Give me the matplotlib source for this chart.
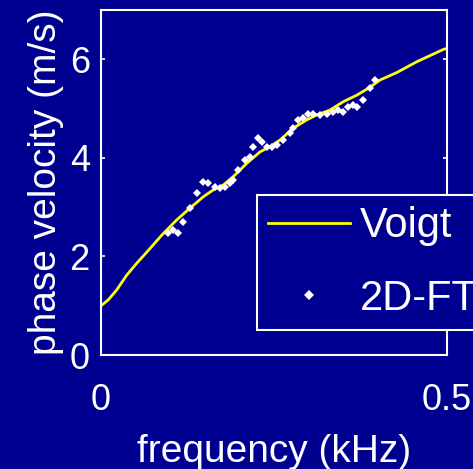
import matplotlib
matplotlib.use("Agg")
import matplotlib.pyplot as plt

# Voigt model curve (frequency in kHz, phase velocity in m/s)
voigt_freq = [0.0, 0.0106, 0.0227, 0.0372, 0.0516, 0.0709, 0.0878, 0.1095,
              0.1288, 0.148, 0.1625, 0.177, 0.1915, 0.211, 0.230, 0.2446,
              0.259, 0.278, 0.2977, 0.312, 0.3314, 0.3507, 0.370, 0.389,
              0.4038, 0.428, 0.457, 0.4954, 0.5]
voigt_vel = [1.0, 1.12, 1.32, 1.62, 1.86, 2.16, 2.43, 2.74,
             2.98, 3.21, 3.35, 3.45, 3.62, 3.89, 4.12, 4.23,
             4.36, 4.60, 4.77, 4.87, 4.97, 5.14, 5.27, 5.43,
             5.58, 5.73, 5.95, 6.20, 6.22]

# 2D-FT measured points
ft_freq = [0.0974, 0.1046, 0.1119, 0.1191, 0.1288, 0.1385, 0.148, 0.1553,
           0.165, 0.1722, 0.1795, 0.1867, 0.1915, 0.1987, 0.2084, 0.2156,
           0.2204, 0.2276, 0.2326, 0.2398, 0.247, 0.2543, 0.2638, 0.2735,
           0.2783, 0.2855, 0.2928, 0.300, 0.3072, 0.3169, 0.3266, 0.3362,
           0.3434, 0.3507, 0.3579, 0.3651, 0.370, 0.3796, 0.3893, 0.3965]
ft_vel = [2.47, 2.54, 2.47, 2.70, 2.98, 3.28, 3.52, 3.48,
          3.41, 3.38, 3.41, 3.48, 3.55, 3.75, 3.96, 4.02,
          4.23, 4.40, 4.33, 4.23, 4.23, 4.26, 4.36, 4.50,
          4.60, 4.77, 4.80, 4.90, 4.90, 4.87, 4.90, 4.94,
          4.97, 4.94, 5.04, 5.07, 5.04, 5.17, 5.41, 5.58]

x_ticks = [0, 0.5]
x_tick_labels = ["0", "0.5"]
y_ticks = [0, 2, 4, 6]
y_tick_labels = ["0", "2", "4", "6"]

BG = "#000090"
FG = "white"
FONT = "Liberation Sans"
TICK_FS = 26
LABEL_FS = 28
LEGEND_FS = 30

plt.rcParams["font.family"] = FONT

fig = plt.figure(figsize=(4.73, 4.69), dpi=100, facecolor=BG)
ax = fig.add_axes([0.2135, 0.243, 0.7305, 0.7357], facecolor=BG)

ax.plot(voigt_freq, voigt_vel, color="#ffff00", linewidth=2.0, label="Voigt")
ax.plot(ft_freq, ft_vel, linestyle="none", marker="D", markersize=4.2,
        color="white", markeredgewidth=0, label="2D-FT")

ax.set_xlim(0, 0.5)
ax.set_ylim(0, 7)
ax.set_xticks(x_ticks)
ax.set_xticklabels(x_tick_labels)
ax.set_yticks(y_ticks)
ax.set_yticklabels(y_tick_labels)
ax.tick_params(axis="both", direction="in", length=3, width=1.2, color=FG,
               labelcolor=FG, labelsize=TICK_FS, right=True, top=True)
ax.tick_params(axis="x", pad=20)
ax.tick_params(axis="y", pad=8)
for sp in ax.spines.values():
    sp.set_color(FG)
    sp.set_linewidth(1.5)

ax.set_xlabel("frequency (kHz)", color=FG, fontsize=LABEL_FS, labelpad=12)
ax.set_ylabel("phase velocity (m/s)", color=FG, fontsize=LABEL_FS, labelpad=4)

# legend sits partly outside the figure, as in the original
leg = ax.legend(loc="upper left", bbox_to_anchor=(257 / 473, (469 - 195) / 469),
                bbox_transform=fig.transFigure, fontsize=LEGEND_FS, frameon=True,
                fancybox=False, framealpha=1, facecolor=BG, edgecolor=FG,
                handlelength=1.95, handletextpad=0.24, labelspacing=0.78,
                borderpad=0.27, borderaxespad=0, markerscale=1.3)
leg.get_frame().set_linewidth(1.5)
for t in leg.get_texts():
    t.set_color(FG)

fig.savefig("out.png", dpi=100, facecolor=BG)
